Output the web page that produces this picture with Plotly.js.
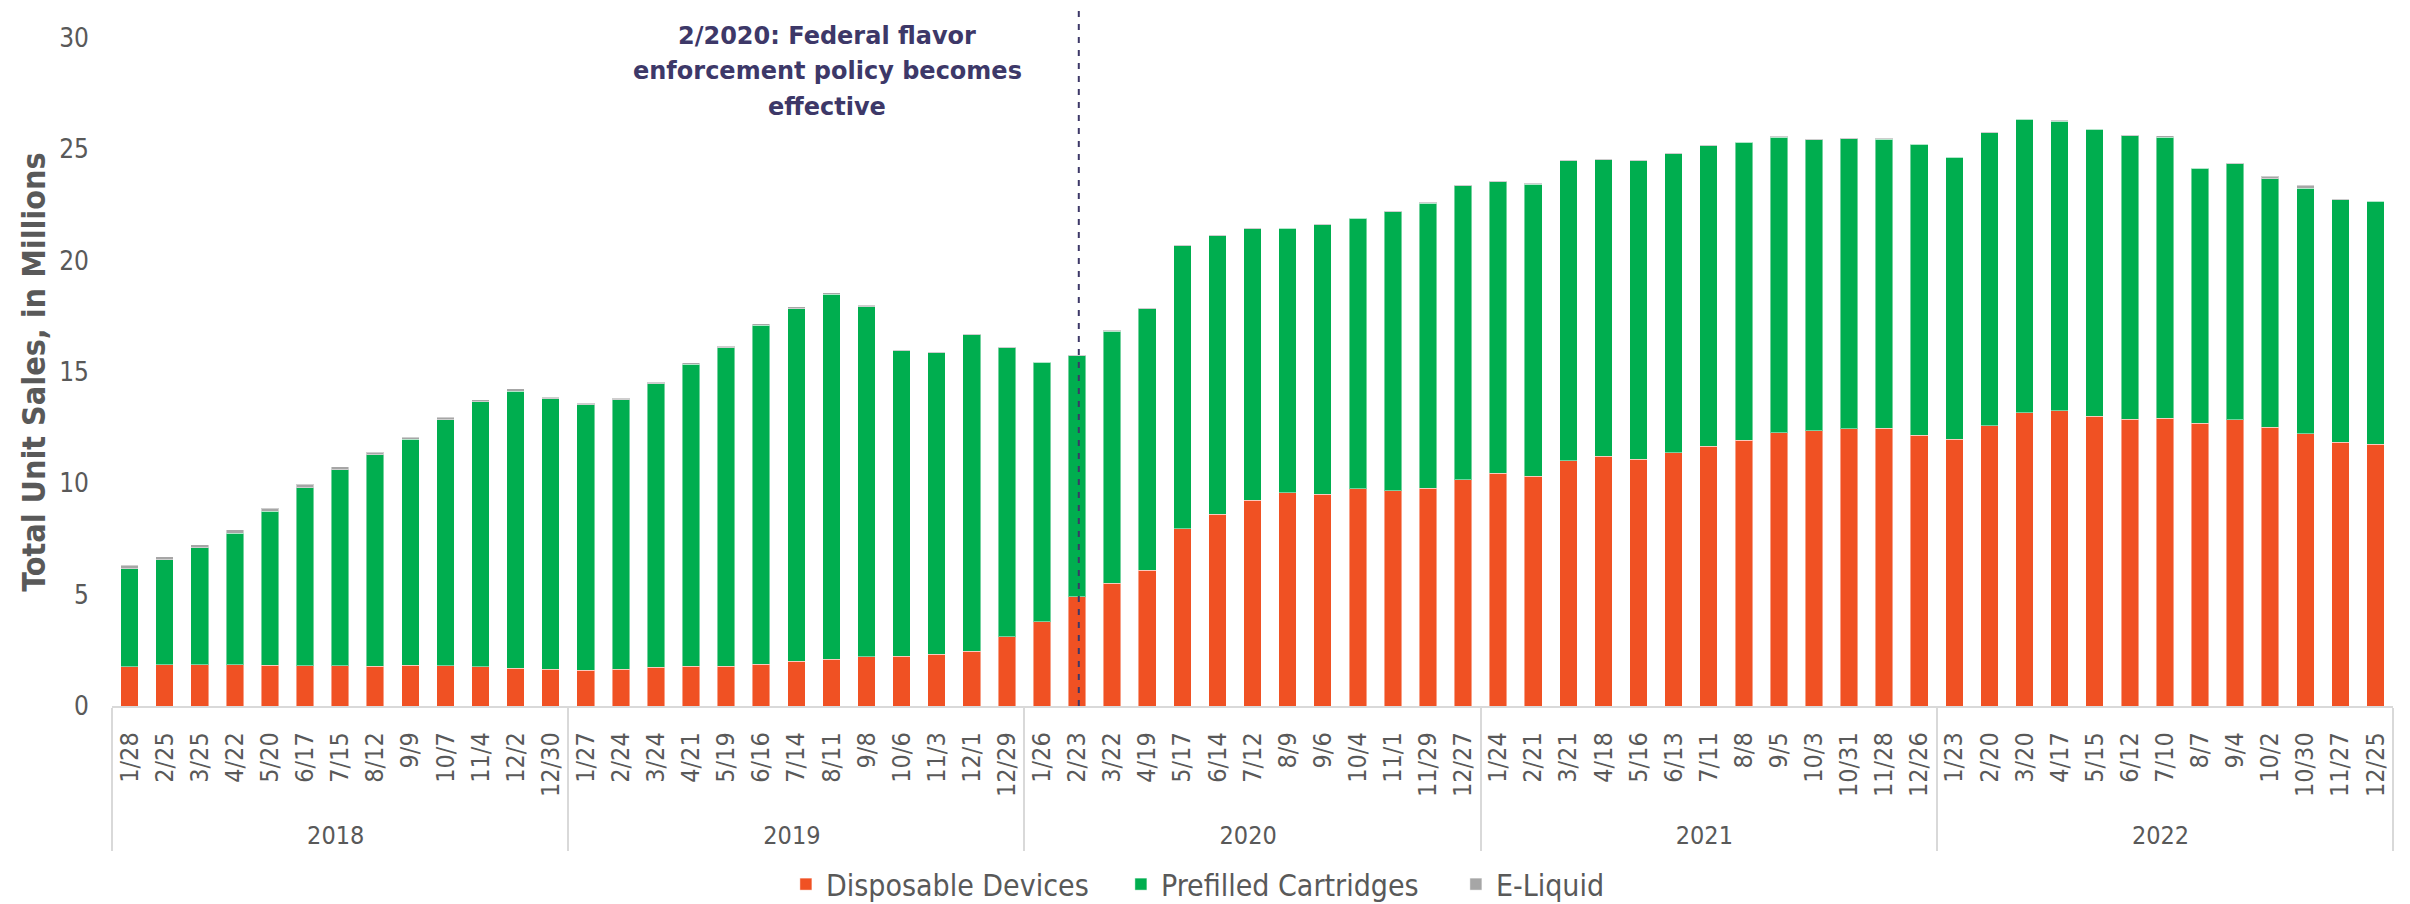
<!DOCTYPE html>
<html>
<head>
<meta charset="utf-8">
<script src="https://cdn.plot.ly/plotly-3.0.1.min.js"></script>
<style>html,body{margin:0;padding:0;background:#fff;}#chart{width:2410px;height:904px;}</style>
</head>
<body>
<div id="chart"></div>
<script>
const years = ['2018', '2019', '2020', '2021', '2022'];
const periods2018 = ['1/28','2/25','3/25','4/22','5/20','6/17','7/15','8/12','9/9','10/7','11/4','12/2','12/30'];
const periods2019 = ['1/27','2/24','3/24','4/21','5/19','6/16','7/14','8/11','9/8','10/6','11/3','12/1','12/29'];
const periods2020 = ['1/26','2/23','3/22','4/19','5/17','6/14','7/12','8/9','9/6','10/4','11/1','11/29','12/27'];
const periods2021 = ['1/24','2/21','3/21','4/18','5/16','6/13','7/11','8/8','9/5','10/3','10/31','11/28','12/26'];
const periods2022 = ['1/23','2/20','3/20','4/17','5/15','6/12','7/10','8/7','9/4','10/2','10/30','11/27','12/25'];

// Unit sales in millions, 4-week periods
const disposableDevices = [
  1.76,1.86,1.86,1.86,1.84,1.80,1.80,1.78,1.84,1.80,1.76,1.70,1.66,
  1.61,1.65,1.73,1.79,1.79,1.88,2.02,2.10,2.21,2.23,2.33,2.45,3.11,
  3.79,4.91,5.51,6.10,7.96,8.62,9.23,9.57,9.52,9.75,9.67,9.79,10.17,
  10.46,10.31,11.01,11.22,11.08,11.37,11.66,11.93,12.28,12.36,12.45,12.47,12.16,
  11.98,12.58,13.18,13.26,13.01,12.87,12.93,12.70,12.85,12.52,12.23,11.84,11.75
];
const prefilledCartridges = [
  4.41,4.70,5.24,5.90,6.90,8.01,8.82,9.50,10.15,11.06,11.90,12.44,12.13,
  11.93,12.11,12.74,13.55,14.29,15.21,15.82,16.39,15.73,13.73,13.53,14.23,12.97,
  11.65,10.82,11.33,11.74,12.72,12.49,12.20,11.88,12.09,12.15,12.52,12.80,13.20,
  13.08,13.13,13.48,13.31,13.41,13.43,13.50,13.39,13.27,13.06,13.03,12.99,13.06,
  12.66,13.17,13.17,13.01,12.89,12.74,12.62,11.44,11.50,11.17,11.03,10.90,10.91
];
const eLiquid = [
  0.15,0.15,0.15,0.15,0.13,0.14,0.13,0.11,0.09,0.10,0.10,0.10,0.07,
  0.06,0.06,0.07,0.07,0.07,0.08,0.08,0.07,0.06,0.03,0.03,0.04,0.03,
  0.03,0.03,0.03,0.03,0.03,0.03,0.03,0.03,0.03,0.03,0.03,0.03,0.03,
  0.03,0.03,0.03,0.03,0.03,0.03,0.03,0.03,0.03,0.03,0.03,0.03,0.03,
  0.03,0.03,0.03,0.03,0.03,0.04,0.06,0.04,0.04,0.10,0.12,0.05,0.04
];
const seriesNames = ['Disposable Devices', 'Prefilled Cartridges', 'E-Liquid'];
const seriesColors = ['#F05123', '#00AE4F', '#A6A6A6'];
const annotationLines = ['2/2020: Federal flavor', 'enforcement policy becomes', 'effective'];
const policyYear = '2020', policyPeriod = '2/23';

// trailing no-break spaces keep the rotated period labels a little away from the axis line
const LABEL_PAD = '\u00a0\u00a0';
const periodsByYear = [periods2018, periods2019, periods2020, periods2021, periods2022];
const xYears = [], xPeriods = [], rawPeriods = [];
periodsByYear.forEach((list, i) => list.forEach(p => { xYears.push(years[i]); rawPeriods.push(p); xPeriods.push(p + LABEL_PAD); }));
const nCats = xPeriods.length;
let policyIdx = 0;
for (let i = 0; i < nCats; i++) if (xYears[i] === policyYear && rawPeriods[i] === policyPeriod) policyIdx = i;

const FONT = 'DejaVu Sans Condensed, DejaVu Sans, sans-serif';
const TXT = '#595959';
const lineStyle = {width: 1, color: 'rgba(255,255,255,0.45)'};

const traces = [disposableDevices, prefilledCartridges, eLiquid].map((vals, k) => ({
  type: 'bar', name: seriesNames[k], x: [xYears, xPeriods], y: vals,
  marker: {color: seriesColors[k], line: lineStyle}
}));

const annYs = [1.003, 0.951, 0.896];
const annotations = annotationLines.map((t, i) => ({
  xref: 'paper', yref: 'paper', x: 0.3135, y: annYs[i], xanchor: 'center', yanchor: 'middle',
  text: '<b>' + t + '</b>', showarrow: false,
  font: {family: 'DejaVu Sans, sans-serif', size: 24, color: '#3D3868'}
}));

const lineX = (policyIdx + 0.55) / nCats;
const layout = {
  width: 2410, height: 904,
  margin: {l: 112, r: 17, t: 38, b: 198},
  paper_bgcolor: '#fff', plot_bgcolor: '#fff',
  barmode: 'stack', bargap: 0.5,
  font: {family: FONT, color: TXT},
  xaxis: {
    type: 'multicategory', range: [-0.5, nCats - 0.5], tickangle: -90,
    tickfont: {family: FONT, size: 25, color: TXT},
    showline: true, linecolor: '#D9D9D9', linewidth: 2, ticks: '',
    showdividers: true, dividercolor: '#D9D9D9', dividerwidth: 2,
    showgrid: false, automargin: false, fixedrange: true
  },
  yaxis: {
    range: [0, 30], dtick: 5, tick0: 0, showgrid: false, zeroline: false, showline: false,
    tickfont: {family: FONT, size: 26, color: TXT}, ticks: '', ticklabelstandoff: 22,
    title: {text: '<b>Total Unit Sales, in Millions</b>', font: {family: FONT, size: 32, color: TXT}, standoff: 4},
    automargin: false, fixedrange: true
  },
  legend: {
    orientation: 'h', xref: 'container', yref: 'container', x: 0.3261, xanchor: 'left', y: 0.022, yanchor: 'middle',
    font: {family: FONT, size: 30, color: TXT}, entrywidth: 290, entrywidthmode: 'pixels', traceorder: 'normal'
  },
  shapes: [{
    type: 'line', xref: 'paper', yref: 'paper', x0: lineX, x1: lineX, y0: 0, y1: 1.042,
    line: {color: '#3D3868', width: 2, dash: '6px,7px'}
  }],
  annotations: annotations,
  showlegend: true
};
Plotly.newPlot('chart', traces, layout, {displayModeBar: false, staticPlot: true});
</script>
</body>
</html>
